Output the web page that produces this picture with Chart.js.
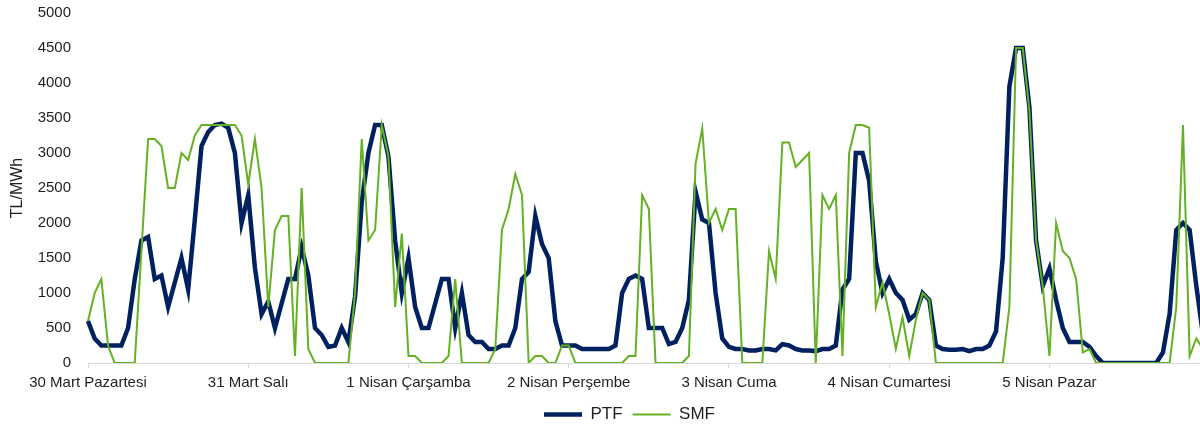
<!DOCTYPE html>
<html lang="tr">
  <head>
    <meta charset="UTF-8" />
    <script src="https://cdn.jsdelivr.net/npm/chart.js@4.4.1/dist/chart.umd.min.js"></script>
    <title>PTF - SMF</title>
    <style>
      html,
      body {
        margin: 0;
        padding: 0;
        overflow: hidden;
        background: #ffffff;
      }
      canvas {
        display: block;
      }
    </style>
  </head>
  <body>
    <canvas id="chart" width="1210" height="430"></canvas>
    <script>
      // one label per day, shown on the first hour of the day
      const dayLabels = [
        "30 Mart Pazartesi",
        "31 Mart Salı",
        "1 Nisan Çarşamba",
        "2 Nisan Perşembe",
        "3 Nisan Cuma",
        "4 Nisan Cumartesi",
        "5 Nisan Pazar",
      ];

      // hourly values, TL/MWh (7 days x 24 h)
      const ptf = [
        600, 350, 250, 250, 250, 250, 500, 1200, 1750, 1800, 1200, 1250,
        800, 1150, 1500, 1050, 2050, 3100, 3300, 3400, 3420, 3360, 3000, 2000,
        2400, 1360, 700, 880, 500, 850, 1200, 1200, 1650, 1250, 500, 400,
        230, 250, 500, 300, 950, 2300, 3000, 3400, 3400, 2950, 1750, 1000,
        1500, 800, 500, 500, 850, 1200, 1200, 500, 1000, 400, 300, 300,
        200, 200, 250, 250, 500, 1200, 1300, 2100, 1700, 1500, 600, 250,
        250, 250, 200, 200, 200, 200, 200, 250, 1000, 1200, 1250, 1200,
        500, 500, 500, 270, 300, 500, 900, 2450, 2050, 2000, 1000, 350,
        230, 200, 200, 180, 180, 200, 200, 180, 270, 250, 200, 180,
        180, 170, 200, 200, 250, 1050, 1200, 3000, 3000, 2600, 1450, 1000,
        1200, 1000, 900, 620, 700, 1000, 900, 250, 200, 190, 190, 200,
        170, 200, 200, 250, 450, 1500, 3950, 4500, 4500, 3650, 1750, 1100,
        1350, 900, 500, 300, 300, 300, 230, 100, 0, 0, 0, 0,
        0, 0, 0, 0, 0, 150, 700, 1900, 2000, 1900, 1100, 400,
      ];

      const smf = [
        600, 1000, 1200, 250, 0, 0, 0, 0, 1600, 3200, 3200, 3100,
        2500, 2500, 3000, 2900, 3250, 3400, 3400, 3400, 3400, 3400, 3400, 3250,
        2550, 3200, 2500, 800, 1900, 2100, 2100, 100, 2500, 200, 0, 0,
        0, 0, 0, 0, 1000, 3200, 1750, 1900, 3400, 2950, 800, 1850,
        100, 100, 0, 0, 0, 0, 100, 1200, 0, 0, 0, 0,
        0, 200, 1900, 2200, 2700, 2400, 0, 100, 100, 0, 0, 250,
        250, 0, 0, 0, 0, 0, 0, 0, 0, 100, 100, 2400,
        2200, 0, 0, 0, 0, 0, 100, 2850, 3350, 2000, 2200, 1900,
        2200, 2200, 0, 0, 0, 0, 1600, 1200, 3150, 3150, 2800, 2900,
        3000, 0, 2400, 2200, 2400, 100, 3000, 3400, 3400, 3360, 800, 1150,
        700, 200, 650, 100, 620, 1000, 900, 0, 0, 0, 0, 0,
        0, 0, 0, 0, 0, 0, 800, 4500, 4500, 3600, 1750, 1100,
        100, 2000, 1600, 1500, 1200, 150, 200, 0, 0, 0, 0, 0,
        0, 0, 0, 0, 0, 0, 0, 800, 3400, 100, 350, 200,
      ];

      const hours = ptf.map((_, i) => i);
      const axisGray = "#d9d9d9";
      const textColor = "#1f1f1f";

      Chart.defaults.font.family = "'Liberation Sans', Arial, sans-serif";
      Chart.defaults.font.size = 15;
      Chart.defaults.color = textColor;

      // nudge the bottom legend right and down, like the original
      const legendShift = {
        id: "legendShift",
        afterLayout(chart) {
          const lg = chart.legend;
          lg.left += 28;
          lg.right += 28;
          lg.top += 3;
          lg.bottom += 3;
        },
      };

      const ctx = document.getElementById("chart").getContext("2d");
      const chart = new Chart(ctx, {
        type: "line",
        data: {
          labels: hours,
          datasets: [
            // SMF first so it is drawn on top of PTF
            {
              label: "SMF",
              data: smf,
              borderColor: "#64b123",
              backgroundColor: "#64b123",
              borderWidth: 2,
              pointRadius: 0,
              tension: 0,
            },
            {
              label: "PTF",
              data: ptf,
              borderColor: "#00215f",
              backgroundColor: "#00215f",
              borderWidth: 4.5,
              pointRadius: 0,
              tension: 0,
            },
          ],
        },
        plugins: [legendShift],
        options: {
          responsive: false,
          animation: false,
          layout: {
            padding: { top: 13, right: 7, left: 0, bottom: 0 },
          },
          plugins: {
            tooltip: { enabled: false },
            legend: {
              position: "bottom",
              reverse: true,
              labels: {
                usePointStyle: true,
                pointStyle: "line",
                pointStyleWidth: 38,
                padding: 10,
                font: { size: 17 },
                color: textColor,
              },
            },
          },
          scales: {
            x: {
              afterFit: (s) => {
                s.height = 30;
              },
              border: { display: true, color: axisGray, width: 1 },
              grid: {
                drawOnChartArea: false,
                drawTicks: true,
                tickLength: 5,
                color: (c) => (c.index % 24 === 0 ? axisGray : "rgba(0,0,0,0)"),
              },
              ticks: {
                autoSkip: false,
                maxRotation: 0,
                minRotation: 0,
                padding: 6,
                callback: (v, i) => (i % 24 === 0 ? dayLabels[i / 24] : ""),
              },
            },
            y: {
              min: 0,
              max: 5000,
              afterFit: (s) => {
                s.width = 88;
                s.paddingTop = 0;
              },
              border: { display: false },
              grid: { display: false, drawTicks: false },
              ticks: {
                stepSize: 500,
                padding: 17,
                callback: (v) => String(v),
              },
              title: {
                display: true,
                text: "TL/MWh",
                font: { size: 16 },
                padding: { top: 8, bottom: 0 },
              },
            },
          },
        },
      });
    </script>
  </body>
</html>
